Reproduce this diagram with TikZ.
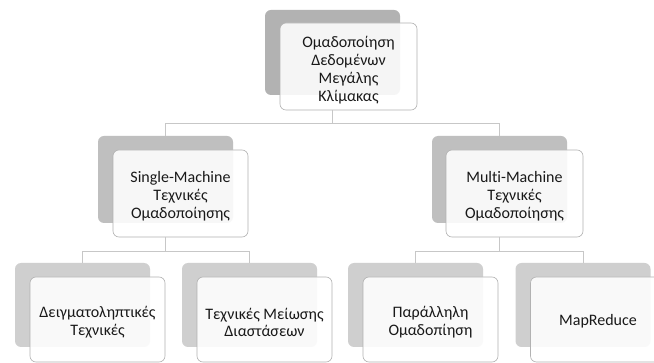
\documentclass[tikz,border=0pt]{standalone}
\usepackage{fontspec}
\setmainfont[Ligatures=CommonOff]{Carlito}
\begin{document}
\begin{tikzpicture}[x=1pt,y=-1pt,
  back/.style={fill=#1, rounded corners=6pt, inner sep=0pt, minimum width=135pt},
  front/.style={fill=white, fill opacity=0.88, draw=black!30, line width=0.6pt,
    rounded corners=6pt, inner sep=0pt},
  caption/.style={inner sep=0pt, align=center, text=black!90,
    font=\fontsize{16}{17.8}\selectfont},
  conn/.style={draw=black!22, line width=0.8pt}]
\clip (0,0) rectangle (654,363);
\fill[white] (0,0) rectangle (654,363);

% root
\node[back=black!30, minimum height=85pt] (g0) at (332.5,52.5) {};
\node[front, minimum width=137pt, minimum height=87pt] (w0) at (348.5,66.5) {};
\node[caption] (t0) at ([yshift=-3.5pt]w0.center)
  {Ομαδοποίηση\\Δεδομένων\\Μεγάλης\\Κλίμακας};

% second level
\node[back=black!25, minimum height=87pt] (g1) at (165.5,179.5) {};
\node[front, minimum width=135pt, minimum height=87pt] (w1) at (180.5,193.5) {};
\node[caption] (t1) at ([yshift=-2.5pt]w1.center)
  {Single-Machine\\Τεχνικές\\Ομαδοποίησης};
\node[back=black!25, minimum height=87pt] (g2) at (499.5,179.5) {};
\node[front, minimum width=137pt, minimum height=87pt] (w2) at (514.5,193.5) {};
\node[caption] (t2) at ([yshift=-2.5pt]w2.center)
  {Multi-Machine\\Τεχνικές\\Ομαδοποίησης};

% third level
\node[back=black!19, minimum height=84pt] (g3) at (82.5,305) {};
\node[front, minimum width=135pt, minimum height=85pt] (w3) at (97.5,319.5) {};
\node[caption] (t3) at ([yshift=-3pt]w3.center) {Δειγματοληπτικές\\Τεχνικές};
\node[back=black!19, minimum height=84pt] (g4) at (249.5,305) {};
\node[front, minimum width=135pt, minimum height=85pt] (w4) at (264.5,319.5) {};
\node[caption] (t4) at ([yshift=-3pt]w4.center) {Τεχνικές Μείωσης\\Διαστάσεων};
\node[back=black!19, minimum height=84pt] (g5) at (415.5,305) {};
\node[front, minimum width=135pt, minimum height=85pt] (w5) at (430.5,319.5) {};
\node[caption] (t5) at ([yshift=-3pt]w5.center) {Παράλληλη\\Ομαδοπίηση};
\node[back=black!19, minimum height=84pt] (g6) at (583,305) {};
\node[front, minimum width=135pt, minimum height=85pt] (w6) at (598,319.5) {};
\node[caption] (t6) at ([yshift=-2pt]w6.center) {MapReduce};

% bus lines
\coordinate (b0) at (0,123);
\coordinate (b1) at (0,251);

\draw[conn] (g0.south |- w0.south) -- (g0.south |- b0) -| (g1.north);
\draw[conn] (g0.south |- b0) -| (g2.north);
\draw[conn] (g1.south |- w1.south) -- (g1.south |- b1) -| (g3.north);
\draw[conn] (g1.south |- b1) -| (g4.north);
\draw[conn] (g2.south |- w2.south) -- (g2.south |- b1) -| (g5.north);
\draw[conn] (g2.south |- b1) -| (g6.north);
\end{tikzpicture}
\end{document}
